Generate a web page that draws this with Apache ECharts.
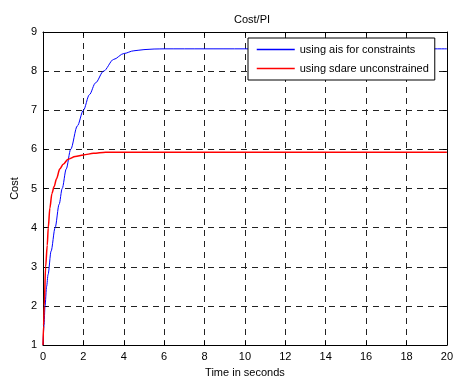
<!DOCTYPE html>
<html>
<head>
<meta charset="utf-8">
<script src="https://cdn.jsdelivr.net/npm/echarts@6/dist/echarts.min.js"></script>
<style>
  html, body { margin: 0; padding: 0; background: #fff; }
  #chart { width: 456px; height: 383px; }
</style>
</head>
<body>
<div id="chart"></div>
<script>
// values
const timeAis = [0, 0.05, 0.1, 0.18, 0.25, 0.4, 0.6, 0.8, 0.95, 1.15, 1.37, 1.7, 2.0, 2.3, 2.6, 3.0, 3.5, 4.0, 4.5, 5.0, 5.5, 6.0, 8, 12, 16, 20];
const costAis = [1, 1.5, 2.0, 2.5, 2.8, 3.4, 4.0, 4.6, 5.0, 5.5, 6.0, 6.6, 7.0, 7.4, 7.7, 8.0, 8.3, 8.45, 8.52, 8.55, 8.565, 8.57, 8.57, 8.57, 8.57, 8.57];
const timeSdare = [0, 0.03, 0.06, 0.13, 0.21, 0.26, 0.34, 0.44, 0.55, 0.67, 0.83, 1.0, 1.24, 1.6, 2.0, 2.5, 3.1, 4, 6, 10, 15, 20];
const costSdare = [1, 1.5, 2.0, 3.0, 3.55, 4.0, 4.5, 4.87, 5.05, 5.25, 5.5, 5.62, 5.75, 5.82, 5.86, 5.9, 5.93, 5.93, 5.93, 5.93, 5.93, 5.93];
const seriesNames = ['using ais for constraints', 'using sdare unconstrained'];
const seriesColors = ['#0000ff', '#ff0000'];

const pairs = (xs, ys) => xs.map((x, i) => [x, ys[i]]);

const chart = echarts.init(document.getElementById('chart'));
const font = 'Liberation Sans, Arial, sans-serif';

const gridLine = {
  show: true,
  lineStyle: { color: '#222', width: 1, type: [6, 5] },
};
const tick = { show: true, inside: true, length: 4, lineStyle: { color: '#000' } };

chart.setOption({
  animation: false,
  backgroundColor: '#fff',
  title: {
    text: 'Cost/PI',
    left: 247,
    textAlign: 'center',
    top: 9,
    textStyle: { fontFamily: font, fontSize: 11, fontWeight: 'normal', color: '#000' },
  },
  legend: {
    orient: 'vertical',
    left: 248,
    top: 38,
    width: 200,
    backgroundColor: '#fff',
    borderColor: '#000',
    borderWidth: 1,
    borderRadius: 0,
    padding: [5, 6, 5, 8],
    itemGap: 6,
    itemWidth: 38,
    itemHeight: 13,
    itemStyle: { opacity: 0 },
    lineStyle: { width: 1.5 },
    textStyle: { fontFamily: font, fontSize: 11, color: '#000', lineHeight: 13 },
    data: seriesNames,
  },
  grid: { left: 43, right: 4, top: 32, bottom: 32 },
  xAxis: [
    {
      type: 'value', min: 0, max: 20, interval: 2,
      name: 'Time in seconds', nameLocation: 'middle', nameGap: 20,
      nameTextStyle: { fontFamily: font, fontSize: 11, color: '#000' },
      axisLine: { show: true, onZero: false, lineStyle: { color: '#000', width: 1 } },
      axisTick: tick,
      axisLabel: { fontFamily: font, fontSize: 11, color: '#000', margin: 6, showMaxLabel: true },
      splitLine: gridLine,
    },
    {
      type: 'value', min: 0, max: 20, interval: 2, position: 'top',
      axisLine: { show: true, onZero: false, lineStyle: { color: '#000', width: 1 } },
      axisTick: tick,
      axisLabel: { show: false },
      splitLine: { show: false },
    },
  ],
  yAxis: [
    {
      type: 'value', min: 1, max: 9, interval: 1,
      name: 'Cost', nameLocation: 'middle', nameGap: 23,
      nameTextStyle: { fontFamily: font, fontSize: 11, color: '#000' },
      axisLine: { show: true, onZero: false, lineStyle: { color: '#000', width: 1 } },
      axisTick: tick,
      axisLabel: { fontFamily: font, fontSize: 11, color: '#000', margin: 6 },
      splitLine: gridLine,
    },
    {
      type: 'value', min: 1, max: 9, interval: 1, position: 'right',
      axisLine: { show: true, onZero: false, lineStyle: { color: '#000', width: 1 } },
      axisTick: tick,
      axisLabel: { show: false },
      splitLine: { show: false },
    },
  ],
  series: [
    {
      name: seriesNames[0],
      type: 'line',
      symbol: 'none',
      smooth: 0.3,
      smoothMonotone: 'x',
      itemStyle: { color: seriesColors[0] },
      lineStyle: { color: seriesColors[0], width: 1 },
      data: pairs(timeAis, costAis),
      z: 3,
    },
    {
      name: seriesNames[1],
      type: 'line',
      symbol: 'none',
      smooth: 0.3,
      smoothMonotone: 'x',
      itemStyle: { color: seriesColors[1] },
      lineStyle: { color: seriesColors[1], width: 1.5 },
      data: pairs(timeSdare, costSdare),
      z: 4,
    },
  ],
});
</script>
</body>
</html>
